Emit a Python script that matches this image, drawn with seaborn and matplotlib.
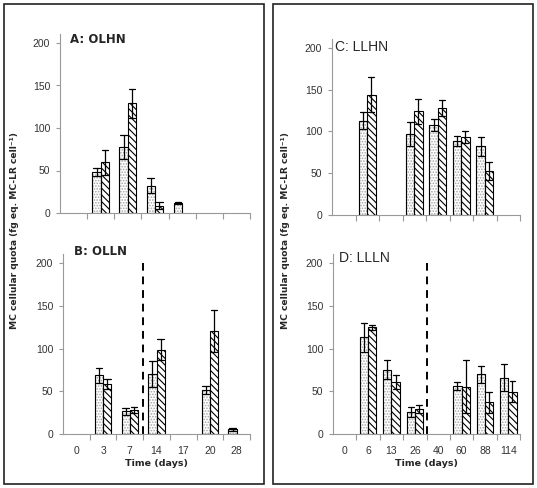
import numpy as np
import pandas as pd
import matplotlib
matplotlib.use("Agg")
import matplotlib.pyplot as plt
from matplotlib.patches import Rectangle
import seaborn as sns

sns.set_style("white")
plt.rcParams['font.family'] = ['Liberation Sans', 'DejaVu Sans']
plt.rcParams['hatch.linewidth'] = 0.8

nan = np.nan
series = ["Series 1", "Series 2"]

# left box (A, B)
days_left = ["0", "3", "7", "14", "17", "20", "28"]
a_dot = [nan, 48, 77.5, 32, 12, nan, nan]
a_dot_err = [nan, 5, 14, 9, 1.5, nan, nan]
a_hatch = [nan, 59.5, 129, 8.5, nan, nan, nan]
a_hatch_err = [nan, 15, 17, 4, nan, nan, nan]

b_dot = [nan, 68.5, 26.5, 70, nan, 51.5, 5.5]
b_dot_err = [nan, 9, 4, 15, nan, 4.5, 1.5]
b_hatch = [nan, 58.5, 28, 98.5, nan, 120.5, nan]
b_hatch_err = [nan, 6, 3.5, 12.5, nan, 24.5, nan]

# right box (C, D)
days_right = ["0", "6", "13", "26", "40", "60", "88", "114"]
c_dot = [nan, 113, nan, 97, 107.5, 89, 82, nan]
c_dot_err = [nan, 10, nan, 14, 7.5, 6, 11, nan]
c_hatch = [nan, 144, nan, 124, 128, 93, 53, nan]
c_hatch_err = [nan, 21, nan, 15, 10, 7, 11, nan]

d_dot = [nan, 113, 75, 26, nan, 56, 70, 66]
d_dot_err = [nan, 16.5, 11, 6, nan, 5, 10, 15.5]
d_hatch = [nan, 125, 61, 29.5, nan, 55.5, 37, 49.5]
d_hatch_err = [nan, 3, 8, 5, nan, 31, 12, 12.5]

y_ticks = [0, 50, 100, 150, 200]


def long_table(days, dot, dot_err, hatch, hatch_err):
    # two rows per bar (value -/+ error) so seaborn draws mean and min-max bar
    rows = []
    for name, vals, errs in [(series[0], dot, dot_err), (series[1], hatch, hatch_err)]:
        for d, v, e in zip(days, vals, errs):
            if np.isnan(v):
                continue
            rows.append((d, name, v - e))
            rows.append((d, name, v + e))
    return pd.DataFrame(rows, columns=["day", "series", "quota"])


def draw(ax, table, days, width, bottom_row, title, title_xy, bold, switch=None):
    sns.barplot(data=table, x="day", y="quota", hue="series", order=days,
                hue_order=series, estimator="mean",
                errorbar=lambda x: (x.min(), x.max()),
                width=width, palette=["white", "white"], saturation=1,
                edgecolor="black", linewidth=0.8, capsize=0.5,
                err_kws={"color": "black", "linewidth": 0.9},
                legend=False, ax=ax)
    for p in ax.containers[0].patches:
        p.set_hatch('......')
        p.set_edgecolor('0.65')
        ax.add_patch(Rectangle(p.get_xy(), p.get_width(), p.get_height(),
                               fill=False, ec='black', lw=0.8, zorder=1.5))
    for p in ax.containers[1].patches:
        p.set_hatch('\\\\\\\\\\')

    ax.set_xlim(-0.5, len(days) - 0.5)
    ax.set_ylim(0, 210)
    ax.set_yticks(y_ticks)
    ax.set_xticks(np.arange(0.5, len(days)), minor=True)
    ax.tick_params(axis='x', which='major', bottom=True, length=0, pad=9,
                   labelsize=7.5, labelcolor='#333', labelbottom=bottom_row)
    ax.tick_params(axis='x', which='minor', bottom=True, length=4,
                   color='#999', width=0.8)
    ax.tick_params(axis='y', left=True, length=3, color='#999', width=0.8,
                   labelsize=7.5, labelcolor='#333', pad=4)
    for s in ['top', 'right']:
        ax.spines[s].set_visible(False)
    for s in ['left', 'bottom']:
        ax.spines[s].set_color('#999')
        ax.spines[s].set_linewidth(0.8)
    ax.set_ylabel('')
    if bottom_row:
        ax.set_xlabel('Time (days)', fontsize=6.8, fontweight='bold',
                      family='DejaVu Sans', labelpad=2)
    else:
        ax.set_xlabel('')
    if switch is not None:
        ax.vlines(days.index(switch) - 0.5, 0, y_ticks[-1], colors='black',
                  linestyles=(0, (4, 3)), lw=1.4)
    if bold:
        ax.text(*title_xy, title, transform=ax.transAxes, fontsize=8.5,
                fontweight='bold', family='DejaVu Sans', va='center', ha='left')
    else:
        ax.text(*title_xy, title, transform=ax.transAxes, fontsize=10,
                va='center', ha='left')


W, H = 537, 488
fig = plt.figure(figsize=(W / 100, H / 100), dpi=100)


def px_axes(x0, x1, y_top, y_bot):
    return fig.add_axes([x0 / W, 1 - y_bot / H, (x1 - x0) / W, (y_bot - y_top) / H])


ax_a = px_axes(60, 250, 34.5, 213)
ax_b = px_axes(63, 250, 254.5, 434)
ax_c = px_axes(332, 520, 39.5, 215)
ax_d = px_axes(333, 520, 254.5, 434)

draw(ax_a, long_table(days_left, a_dot, a_dot_err, a_hatch, a_hatch_err),
     days_left, 0.62, False, "A: OLHN", (0.053, 0.97), True)
draw(ax_b, long_table(days_left, b_dot, b_dot_err, b_hatch, b_hatch_err),
     days_left, 0.62, True, "B: OLLN", (0.058, 1.015), True, switch="14")
draw(ax_c, long_table(days_right, c_dot, c_dot_err, c_hatch, c_hatch_err),
     days_right, 0.71, False, "C: LLHN", (0.015, 0.955), False)
draw(ax_d, long_table(days_right, d_dot, d_dot_err, d_hatch, d_hatch_err),
     days_right, 0.71, True, "D: LLLN", (0.03, 0.983), False, switch="40")

ylab = "MC cellular quota (fg eq. MC-LR cell\u207b\u00b9)"
fig.text(15 / W, 1 - 231 / H, ylab, rotation=90, ha='center', va='center',
         fontsize=6.6, fontweight='bold', family='DejaVu Sans')
fig.text(285 / W, 1 - 231 / H, ylab, rotation=90, ha='center', va='center',
         fontsize=6.6, fontweight='bold', family='DejaVu Sans')

# frames round the two halves
for x0, x1 in [(4, 264), (273, 533)]:
    fig.add_artist(Rectangle((x0 / W, 4 / H), (x1 - x0) / W, 480 / H,
                             transform=fig.transFigure, fill=False,
                             ec='#222', lw=1.2))

fig.savefig("out.png", dpi=100)
